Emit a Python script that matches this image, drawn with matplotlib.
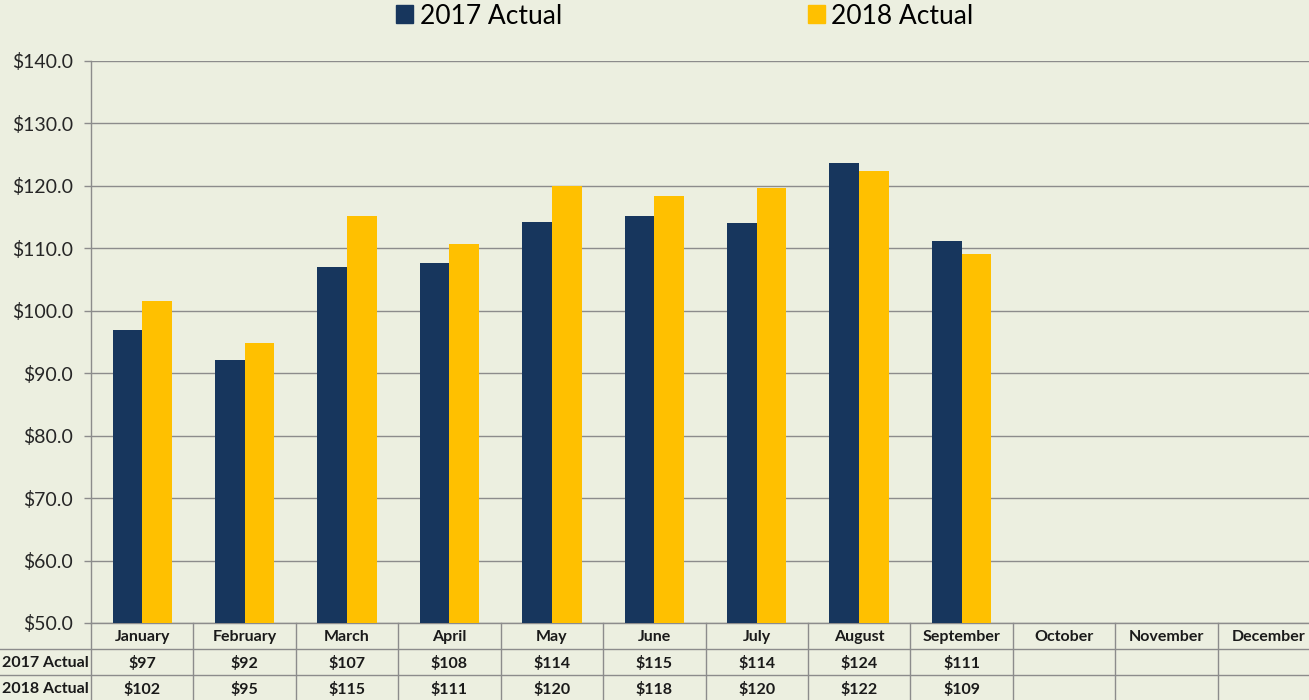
import matplotlib.pyplot as plt
import numpy as np
from matplotlib.lines import Line2D
from matplotlib.patches import Patch
import matplotlib.transforms as mtransforms

months = ['January', 'February', 'March', 'April', 'May', 'June', 'July',
          'August', 'September', 'October', 'November', 'December']
actual_2017 = [96.9, 92.1, 107.0, 107.7, 114.2, 115.2, 114.1, 123.7, 111.2]
actual_2018 = [101.6, 94.8, 115.2, 110.7, 120.0, 118.4, 119.7, 122.4, 109.1]
series_names = ['2017 Actual', '2018 Actual']

bg = '#ECEFE0'
navy = '#17365D'
gold = '#FFC000'
grid_col = '#8C8C8C'
W, H = 1309, 700
AX_R = 1320  # plot area runs past the right edge, December is cut off

plt.rcParams['font.family'] = ['Lato', 'DejaVu Sans']

fig = plt.figure(figsize=(W / 100, H / 100), dpi=100, facecolor=bg)
ax = fig.add_axes([91 / W, (H - 623) / H, (AX_R - 91) / W, (623 - 61) / H])
ax.set_facecolor(bg)

bw = 0.29
x = np.arange(len(actual_2017))
ax.bar(x - bw / 2, np.array(actual_2017) - 50, bw, bottom=50, color=navy, zorder=3)
ax.bar(x + bw / 2, np.array(actual_2018) - 50, bw, bottom=50, color=gold, zorder=3)

ax.set_xlim(-0.5, 11.5)
ax.set_ylim(50, 140)
ax.set_yticks(np.arange(50, 141, 10))
ax.set_yticklabels(['${:.1f}'.format(v) for v in np.arange(50, 141, 10)], fontsize=14, color='#262626')
ax.tick_params(axis='y', length=5, width=1, color=grid_col, pad=8)
ax.set_xticks([])
ax.grid(axis='y', color=grid_col, linewidth=1, zorder=0)
for s in ['top', 'right']:
    ax.spines[s].set_visible(False)
for s in ['left', 'bottom']:
    ax.spines[s].set_color(grid_col)
    ax.spines[s].set_linewidth(1)

# data table under the axis
trans = mtransforms.blended_transform_factory(ax.transData, ax.transAxes)
def ay(py):
    return (623 - py) / 562

for b in np.arange(-0.5, 11.0, 1.0):
    ax.add_line(Line2D([b, b], [ay(623), ay(700)], transform=trans, color=grid_col,
                       linewidth=1, clip_on=False))
for py in [649, 675]:
    fig.add_artist(Line2D([0, 1], [(H - py) / H] * 2, color=grid_col, linewidth=1))

cat_px = (AX_R - 91) / 12
for i, m in enumerate(months):
    ax.text(i, ay(637), m, transform=trans, ha='center', va='center',
            fontsize=11.5, fontweight='bold', color='#1a1a1a')
for row, vals in enumerate([actual_2017, actual_2018]):
    yc = ay(663 + 26 * row)
    ax.text(-0.5 - 46 / cat_px, yc, series_names[row], transform=trans, ha='center',
            va='center', fontsize=11.5, fontweight='bold', color='#1a1a1a')
    for i, v in enumerate(vals):
        ax.text(i, yc, '${:.0f}'.format(v), transform=trans, ha='center', va='center',
                fontsize=11.5, fontweight='bold', color='#1a1a1a')

handles = [Patch(color=navy), Patch(color=gold)]
fig.legend(handles, series_names, loc='center left', bbox_to_anchor=(383 / W, 1 - 16 / H),
           ncol=2, frameon=False, fontsize=19, handlelength=0.65, handleheight=0.65,
           handletextpad=0.25, columnspacing=9.3, borderpad=0)

fig.savefig('out.png', dpi=100, facecolor=bg)
